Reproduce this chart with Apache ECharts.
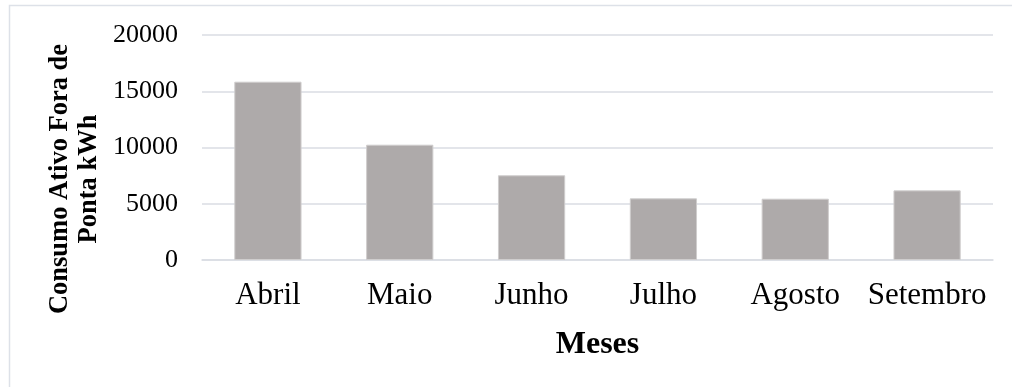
<!DOCTYPE html>
<html>
<head>
<meta charset="utf-8">
<script src="https://cdn.jsdelivr.net/npm/echarts@6/dist/echarts.min.js"></script>
<style>
  html, body { margin: 0; padding: 0; background: #ffffff; }
  #chart { width: 1012px; height: 387px; }
</style>
</head>
<body>
<div id="chart"></div>
<script>
// Monthly off-peak active consumption (kWh)
const months = ['Abril', 'Maio', 'Junho', 'Julho', 'Agosto', 'Setembro'];
const consumption = [15850, 10250, 7530, 5480, 5450, 6190];
const yTicks = [0, 5000, 10000, 15000, 20000];

const serif = '"Liberation Serif", "Times New Roman", serif';
const gridColor = '#dadde3';

const chart = echarts.init(document.getElementById('chart'), null, { renderer: 'canvas' });

chart.setOption({
  animation: false,
  backgroundColor: '#ffffff',
  grid: { left: 202, right: 19, top: 35, bottom: 127, containLabel: false },
  xAxis: {
    type: 'category',
    data: months,
    name: 'Meses',
    nameLocation: 'middle',
    nameGap: 69,
    nameTextStyle: { fontFamily: serif, fontSize: 32, fontWeight: 'bold', color: '#000' },
    axisLine: { show: true, lineStyle: { color: gridColor, width: 1.5 } },
    axisTick: { show: false },
    axisLabel: { fontFamily: serif, fontSize: 31, color: '#000', margin: 20, interval: 0 }
  },
  yAxis: {
    type: 'value',
    min: yTicks[0],
    max: yTicks[yTicks.length - 1],
    interval: yTicks[1] - yTicks[0],
    axisLine: { show: false },
    axisTick: { show: false },
    axisLabel: {
      fontFamily: serif, fontSize: 26, color: '#000', margin: 24,
      formatter: (v) => String(v)
    },
    splitLine: { show: true, lineStyle: { color: gridColor, width: 1.5 } }
  },
  graphic: [
    {
      // outer chart frame
      type: 'rect',
      shape: { x: 9.5, y: 5.5, width: 1200, height: 600 },
      style: { fill: 'none', stroke: '#dde1e8', lineWidth: 1.5 },
      silent: true
    },
    {
      type: 'text',
      x: 75,
      y: 179,
      rotation: Math.PI / 2,
      style: {
        text: 'Consumo Ativo Fora de\nPonta kWh',
        fontFamily: serif,
        fontSize: 26.5,
        fontWeight: 'bold',
        lineHeight: 29,
        fill: '#000',
        align: 'center',
        verticalAlign: 'middle'
      }
    }
  ],
  series: [{
    type: 'bar',
    data: consumption,
    barWidth: '51%',
    itemStyle: { color: '#aeaaaa', borderColor: '#cfcdcd', borderWidth: 1 }
  }]
});
</script>
</body>
</html>
